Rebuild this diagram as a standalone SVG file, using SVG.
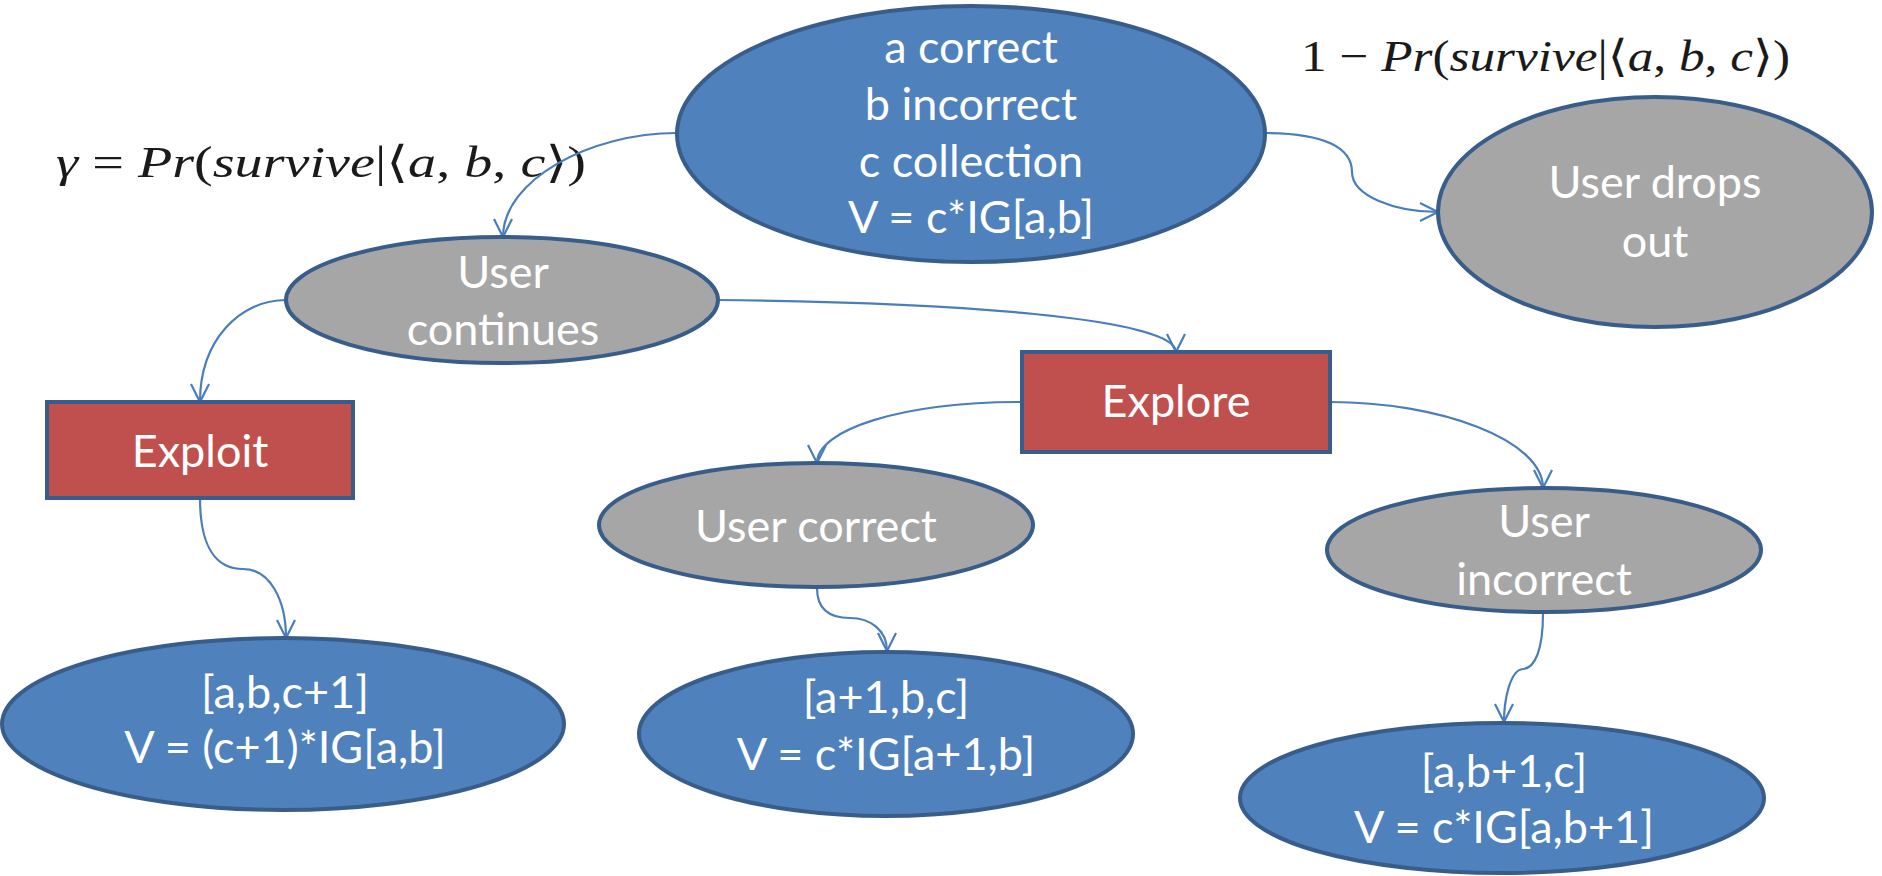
<svg xmlns="http://www.w3.org/2000/svg" width="1882" height="876" viewBox="0 0 1882 876">
  <style>
    .blue { fill: #4F81BD; stroke: #385D8A; stroke-width: 4; }
    .gray { fill: #A6A6A6; stroke: #385D8A; stroke-width: 4; }
    .red { fill: #C0504D; stroke: #385D8A; stroke-width: 4; }
    .lbl { font-family: Lato, "Open Sans", "Liberation Sans", sans-serif; font-size: 45px; fill: #FFFFFF; text-anchor: middle; }
    .math { font-family: "Liberation Serif", "DejaVu Serif", serif; font-size: 44px; fill: #1a1a1a; }
    .conn { fill: none; stroke: #4A7EBB; stroke-width: 2.2; marker-end: url(#arrow); }
  </style>
  <defs>
    <marker id="arrow" markerUnits="userSpaceOnUse" markerWidth="24" markerHeight="24" viewBox="-20 -12 24 24" refX="0" refY="0" orient="auto">
      <path d="M-18,-9 L0,0 L-18,9" fill="none" stroke="#4A7EBB" stroke-width="2.2"/>
    </marker>
  </defs>
  <rect width="1882" height="876" fill="#FFFFFF"/>

  <!-- transition probabilities -->
  <text class="math" x="56" y="177" textLength="530" lengthAdjust="spacingAndGlyphs"><tspan font-style="italic">γ</tspan> = <tspan font-style="italic">Pr</tspan>(<tspan font-style="italic">survive</tspan>|⟨<tspan font-style="italic">a</tspan>, <tspan font-style="italic">b</tspan>, <tspan font-style="italic">c</tspan>⟩)</text>
  <text class="math" x="1301" y="71" textLength="489" lengthAdjust="spacingAndGlyphs">1 − <tspan font-style="italic">Pr</tspan>(<tspan font-style="italic">survive</tspan>|⟨<tspan font-style="italic">a</tspan>, <tspan font-style="italic">b</tspan>, <tspan font-style="italic">c</tspan>⟩)</text>

  <g id="connectors">
    <path class="conn" d="M677,133 C590,133 503,180 503,237"/>
    <path class="conn" d="M1265,133 C1325,133 1352,148 1352,172 C1352,196 1395,212 1438,212"/>
    <path class="conn" d="M286,300 C240,300 200,340 200,402"/>
    <path class="conn" d="M718,300 C950,302 1176,318 1176,352"/>
    <path class="conn" d="M1022,402 C900,402 817,430 817,463"/>
    <path class="conn" d="M1330,402 C1440,402 1543,440 1543,488"/>
    <path class="conn" d="M200,498 C200,545 215,569 243,569 C270,569 286,600 286,638"/>
    <path class="conn" d="M817,588 C817,610 830,618 850,618 C870,618 887,630 887,651"/>
    <path class="conn" d="M1543,613 C1543,650 1535,668 1523,669 C1510,670 1504,700 1504,722"/>
  </g>

  <g id="state">
    <ellipse class="blue" cx="971" cy="134" rx="294" ry="128"/>
    <text class="lbl" x="971" y="63">a correct</text>
    <text class="lbl" x="971" y="120">b incorrect</text>
    <text class="lbl" x="971" y="177">c collection</text>
    <text class="lbl" x="971" y="233">V = c*IG[a,b]</text>
  </g>

  <g id="drops-out">
    <ellipse class="gray" cx="1655" cy="212" rx="217" ry="115"/>
    <text class="lbl" x="1655" y="198">User drops</text>
    <text class="lbl" x="1655" y="257">out</text>
  </g>

  <g id="continues">
    <ellipse class="gray" cx="502" cy="300" rx="216" ry="63"/>
    <text class="lbl" x="503" y="288">User</text>
    <text class="lbl" x="503" y="345">continues</text>
  </g>

  <g id="exploit">
    <rect class="red" x="47" y="402" width="306" height="96"/>
    <text class="lbl" x="200" y="467">Exploit</text>
  </g>

  <g id="explore">
    <rect class="red" x="1022" y="352" width="308" height="100"/>
    <text class="lbl" x="1176" y="417">Explore</text>
  </g>

  <g id="user-correct">
    <ellipse class="gray" cx="816" cy="525" rx="217" ry="62"/>
    <text class="lbl" x="816" y="542">User correct</text>
  </g>

  <g id="user-incorrect">
    <ellipse class="gray" cx="1544" cy="550" rx="217" ry="62"/>
    <text class="lbl" x="1544" y="537">User</text>
    <text class="lbl" x="1544" y="595">incorrect</text>
  </g>

  <g id="exploit-result">
    <ellipse class="blue" cx="283" cy="724" rx="281" ry="86"/>
    <text class="lbl" x="285" y="708">[a,b,c+1]</text>
    <text class="lbl" x="285" y="763">V = (c+1)*IG[a,b]</text>
  </g>

  <g id="correct-result">
    <ellipse class="blue" cx="886" cy="734" rx="247" ry="82"/>
    <text class="lbl" x="886" y="713">[a+1,b,c]</text>
    <text class="lbl" x="886" y="770">V = c*IG[a+1,b]</text>
  </g>

  <g id="incorrect-result">
    <ellipse class="blue" cx="1502" cy="798" rx="262" ry="75"/>
    <text class="lbl" x="1504" y="787">[a,b+1,c]</text>
    <text class="lbl" x="1504" y="843">V = c*IG[a,b+1]</text>
  </g>
</svg>
